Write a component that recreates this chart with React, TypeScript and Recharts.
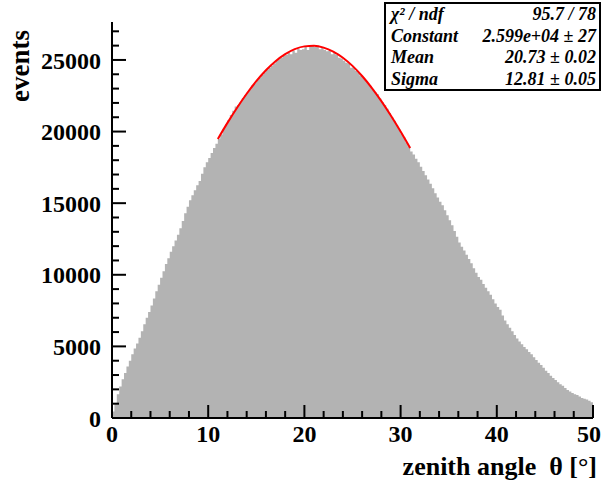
import { ComposedChart, Area, Line, XAxis, YAxis, Label } from "recharts";

// events per 0.25 deg bin, 0 .. 50 deg
const counts = [
  450, 1050, 1650, 2200, 2700, 3150, 3600, 4000,
  4450, 4850, 5200, 5600, 6050, 6550, 7000, 7400,
  7850, 8350, 8850, 9300, 9800, 10250, 10750, 11150,
  11600, 12000, 12400, 12800, 13250, 13750, 14300, 14750,
  15200, 15550, 15900, 16250, 16550, 17050, 17500, 17850,
  18150, 18500, 18850, 19150, 19500, 19800, 20200, 20500,
  20800, 21150, 21450, 21750, 21850, 22050, 22350, 22550,
  22750, 22950, 23250, 23400, 23600, 23750, 23950, 24150,
  24300, 24450, 24600, 24750, 24950, 25050, 25150, 25300,
  25350, 25500, 25400, 25650, 25500, 25800, 25700, 25750,
  25950, 25700, 26050, 26000, 25900, 26000, 25750, 25850,
  25700, 25600, 25650, 25400, 25500, 25350, 25150, 25100,
  24950, 24800, 24750, 24450, 24500, 24250, 24150, 23900,
  23750, 23600, 23350, 23200, 22950, 22750, 22600, 22300,
  22050, 21850, 21600, 21300, 21000, 20750, 20450, 20150,
  19850, 19600, 19250, 18950, 18600, 18400, 18100, 17850,
  17550, 17250, 16950, 16650, 16350, 16050, 15700, 15400,
  15100, 14850, 14500, 14150, 13800, 13450, 13050, 12650,
  12250, 11950, 11700, 11400, 11100, 10800, 10450, 10150,
  9850, 9650, 9350, 9100, 8850, 8600, 8300, 8000,
  7750, 7550, 7150, 6800, 6550, 6300, 6050, 5800,
  5550, 5350, 5150, 4950, 4800, 4600, 4450, 4250,
  4050, 3850, 3700, 3500, 3300, 3150, 2950, 2800,
  2650, 2500, 2350, 2250, 2100, 1950, 1850, 1750,
  1650, 1600, 1500, 1400, 1350, 1300, 1200, 1100,
];
const binWidth = 0.25;

// gaussian fit drawn over 11..31 deg
const fitTheta = [11, 12, 13, 14, 15, 16, 17, 18, 19, 20, 21, 22, 23, 24, 25, 26, 27, 28, 29, 30, 31];
const fitValues = [
  19477, 20605, 21663, 22640, 23516, 24277, 24912, 25405, 25754, 25948, 25984,
  25863, 25585, 25157, 24586, 23881, 23056, 22124, 21101, 20003, 18847,
];

const xTicks = [0, 2, 4, 6, 8, 10, 12, 14, 16, 18, 20, 22, 24, 26, 28, 30, 32, 34, 36, 38, 40, 42, 44, 46, 48, 50];
const yTicks = Array.from({ length: 28 }, (_, i) => i * 1000);
const yMax = 27650;

const statRows = [
  ["χ² / ndf", "95.7 / 78"],
  ["Constant", "2.599e+04 ± 27"],
  ["Mean", "20.73 ± 0.02"],
  ["Sigma", "12.81 ± 0.05"],
];

const rows: { theta: number; events: number; fit?: number }[] = counts.map((c, i) => {
  const theta = i * binWidth;
  const k = fitTheta.indexOf(theta);
  return k >= 0 ? { theta, events: c, fit: fitValues[k] } : { theta, events: c };
});
rows.push({ theta: 50, events: counts[counts.length - 1] });

const FONT = "'Liberation Serif', 'Times New Roman', serif";
const X_GAP = 7;
const Y_GAP = 11;

function XTick(props: any) {
  const { x, y, payload } = props;
  const axisY = y - X_GAP;
  const major = payload.value % 10 === 0;
  // last label is pulled in so it stays inside the canvas
  const last = payload.value === 50;
  return (
    <g>
      <line x1={x} x2={x} y1={axisY} y2={axisY - (major ? 13 : 7)} stroke="#000" strokeWidth={2} />
      {major && (
        <text
          x={last ? x + 8 : x}
          y={y}
          dy="0.72em"
          textAnchor={last ? "end" : "middle"}
          fontFamily={FONT}
          fontWeight="bold"
          fontSize={24}
          fill="#000"
        >
          {payload.value}
        </text>
      )}
    </g>
  );
}

function YTick(props: any) {
  const { x, y, payload } = props;
  const axisX = x + Y_GAP;
  const major = payload.value % 5000 === 0;
  return (
    <g>
      <line x1={axisX} x2={axisX + (major ? 14 : 7)} y1={y} y2={y} stroke="#000" strokeWidth={2} />
      {major && (
        <text x={x} y={y} dy="0.36em" textAnchor="end" fontFamily={FONT} fontWeight="bold" fontSize={24} fill="#000">
          {payload.value}
        </text>
      )}
    </g>
  );
}

export default function App() {
  return (
    <div style={{ position: "absolute", left: 0, top: 0, width: 603, height: 490, background: "#fff" }}>
      <ComposedChart width={603} height={490} data={rows} margin={{ top: 22, right: 10, bottom: 0, left: 0 }}>
        <XAxis
          dataKey="theta"
          type="number"
          domain={[0, 50]}
          ticks={xTicks}
          interval={0}
          height={72}
          tickSize={0}
          tickMargin={X_GAP}
          tickLine={false}
          tick={<XTick />}
          axisLine={{ stroke: "#000", strokeWidth: 2 }}
        >
          <Label
            content={(p: any) => {
              const vb = p.viewBox;
              return (
                <text
                  x={vb.x + vb.width + 4}
                  y={vb.y + 57}
                  textAnchor="end"
                  fontFamily={FONT}
                  fontWeight="bold"
                  fontSize={26}
                  fill="#000"
                  style={{ whiteSpace: "pre" }}
                >
                  zenith angle  θ [°]
                </text>
              );
            }}
          />
        </XAxis>
        <XAxis xAxisId="top" orientation="top" type="number" domain={[0, 50]} height={0} tick={false} tickLine={false} axisLine={{ stroke: "#000", strokeWidth: 2 }} />
        <YAxis
          type="number"
          domain={[0, yMax]}
          ticks={yTicks}
          interval={0}
          width={112}
          tickSize={0}
          tickMargin={Y_GAP}
          tickLine={false}
          tick={<YTick />}
          axisLine={{ stroke: "#000", strokeWidth: 2 }}
        >
          <Label
            content={(p: any) => {
              const vb = p.viewBox;
              const lx = vb.x + 29;
              const ly = vb.y + 8;
              return (
                <text
                  x={lx}
                  y={ly}
                  transform={`rotate(-90 ${lx} ${ly})`}
                  textAnchor="end"
                  fontFamily={FONT}
                  fontWeight="bold"
                  fontSize={27}
                  fill="#000"
                >
                  events
                </text>
              );
            }}
          />
        </YAxis>
        <YAxis yAxisId="right" orientation="right" type="number" domain={[0, yMax]} width={0} tick={false} tickLine={false} axisLine={{ stroke: "#000", strokeWidth: 2 }} />
        <Area
          type="stepAfter"
          dataKey="events"
          fill="#b3b3b3"
          fillOpacity={1}
          stroke="none"
          isAnimationActive={false}
        />
        <Line
          type="monotone"
          dataKey="fit"
          stroke="#ff0000"
          strokeWidth={2}
          dot={false}
          connectNulls
          isAnimationActive={false}
        />
      </ComposedChart>
      <div
        style={{
          position: "absolute",
          left: 384,
          top: 2,
          width: 217,
          height: 89,
          boxSizing: "border-box",
          border: "2px solid #000",
          background: "#fff",
          padding: "0 3px 0 5px",
          fontFamily: FONT,
          fontStyle: "italic",
          fontWeight: "bold",
          fontSize: 18,
        }}
      >
        {statRows.map(([k, v]) => (
          <div key={k} style={{ display: "flex", justifyContent: "space-between", height: 21.5, lineHeight: "21.5px" }}>
            <span>{k}</span>
            <span>{v}</span>
          </div>
        ))}
      </div>
    </div>
  );
}
